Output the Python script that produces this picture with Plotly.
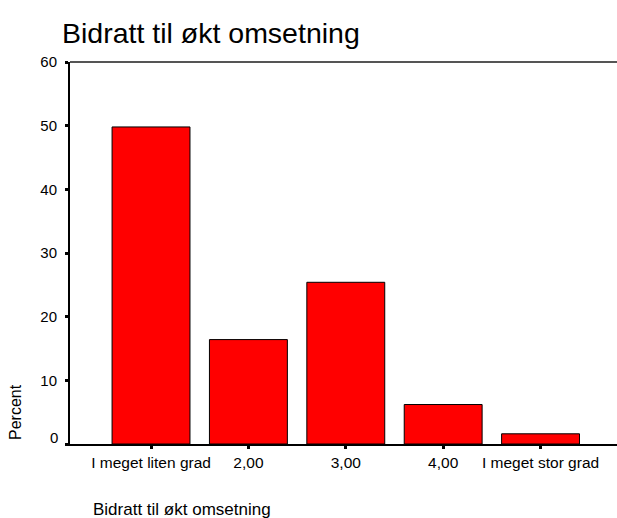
import plotly.graph_objects as go

categories = ["I meget liten grad", "2,00", "3,00", "4,00", "I meget stor grad"]
percent = [49.8, 16.4, 25.4, 6.2, 1.6]
y_ticks = [0, 10, 20, 30, 40, 50, 60]
y_ticktext = ["", "10", "20", "30", "40", "50", "60"]

FONT = "Arial, Liberation Sans, sans-serif"

fig = go.Figure()
fig.add_trace(go.Bar(
    x=categories, y=percent, width=0.8,
    marker=dict(color="#FF0000", line=dict(color="black", width=1)),
))

fig.update_layout(
    width=617, height=518,
    margin=dict(l=70, r=0, t=62, b=74),
    paper_bgcolor="white", plot_bgcolor="white",
    showlegend=False,
    font=dict(family=FONT, color="black", size=14),
    title=dict(text="Bidratt til økt omsetning", x=62/617, xanchor="left",
               y=1-33/518, yanchor="middle", xref="container", yref="container",
               font=dict(size=28.5, family=FONT, color="black")),
)
fig.update_xaxes(
    type="category", range=[-0.832, 4.785],
    showline=True, linecolor="black", linewidth=2,
    ticks="outside", ticklen=3, tickwidth=3, tickcolor="black",
    showgrid=False, zeroline=False,
    tickfont=dict(size=15.5),
)
fig.update_yaxes(
    range=[0, 60], tickvals=y_ticks, ticktext=y_ticktext,
    showline=True, linecolor="black", linewidth=2,
    ticks="outside", ticklen=3, tickwidth=3, tickcolor="black",
    showgrid=False, zeroline=False,
    tickfont=dict(size=15), ticklabelstandoff=5,
)
# top frame line
fig.add_shape(type="line", xref="paper", yref="paper", x0=0, x1=1, y0=1, y1=1,
              line=dict(color="#555555", width=2))
# shifted "0" label (as in reference)
fig.add_annotation(xref="paper", yref="y", x=0, y=0, text="0", showarrow=False,
                   xanchor="right", yanchor="middle", yshift=7, xshift=-10,
                   font=dict(size=15, family=FONT))
fig.add_annotation(xref="paper", yref="paper", x=(91-70)/547, y=(444-510)/382,
                   text="Bidratt til økt omsetning", showarrow=False,
                   xanchor="left", yanchor="middle", font=dict(size=17, family=FONT))
fig.add_annotation(xref="paper", yref="paper", x=(15-70)/547, y=(444-412)/382,
                   text="Percent", textangle=-90, showarrow=False,
                   xanchor="center", yanchor="middle", font=dict(size=16, family=FONT))

fig.write_html("out.html", config={"displayModeBar": False},
               post_script="document.body.style.margin='0';")
